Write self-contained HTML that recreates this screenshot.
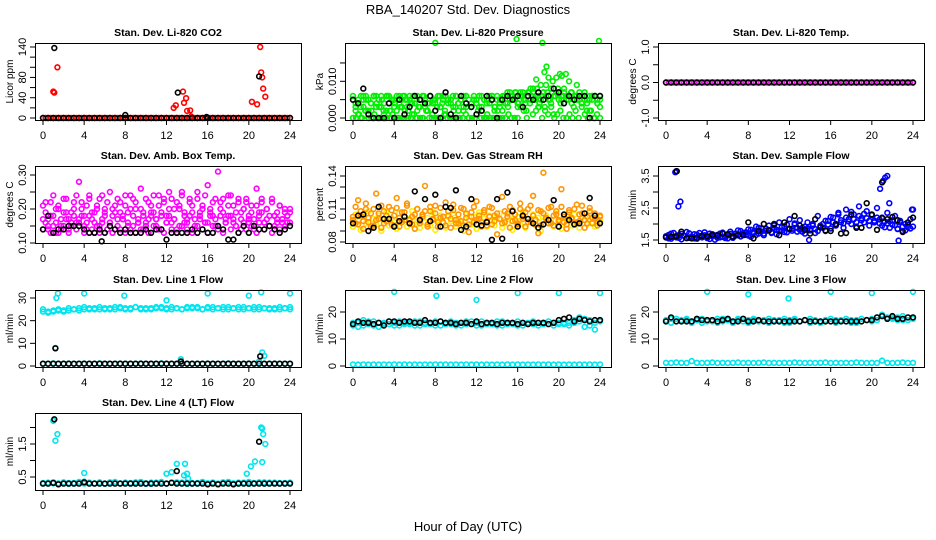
<!DOCTYPE html>
<html><head><meta charset="utf-8"><style>
body{margin:0;background:#fff}
svg{display:block}
text{font-family:"Liberation Sans",Arial,sans-serif;fill:#000}
.pt{font-weight:bold;font-size:10.5px}
.tk{font-size:11px}
</style></head><body>
<svg id="c" width="936" height="540" viewBox="0 0 936 540">
<text x="468" y="14" text-anchor="middle" font-size="13">RBA_140207  Std. Dev. Diagnostics</text>
<text x="468" y="531" text-anchor="middle" font-size="13">Hour of Day (UTC)</text>
</svg>
<script>
const xTicks=[0,4,8,12,16,20,24];
// P1 CO2
const co2Base=[0,0,0,0,0,0,0,0,0,0,0,0,0,0,0,0,0,0,0,0,0,0,0,0,0,0,0,0,0,0,0,0,0,0,0,0,0,0,0,0,0,0,0,0,0,0,0,0,0,0,0,0,0,0,0,0,0,0,0,0,0,0,0,0,0,0,0,0,0,0,0,0,0,0,0,0,0,0,0,0,0,0,0,0,0,0,0,0,0,0,0,0,0,0,0,0,0];
const co2OutX=[1.0,1.1,1.4,12.7,12.9,13.6,13.7,13.9,14.0,14.3,14.4,20.3,20.8,21.1,21.2,21.3,21.4,21.6];
const co2OutY=[52,50,100,20,25,52,30,39,14,15,3,32,27,140,90,80,58,42];
const co2BlkX=[1.1,13.1,21.0,8.0,15.9];
const co2BlkY=[138,50,82,6,2];
const co2Blk=[0,0,0,0,0,0,0,0,0,0,0,0,0,0,0,0,0,0,0,0,0,0,0,0,0,0,0,0,0,0,0,0,0,0,0,0,0,0,0,0,0,0,0,0,0,0,0,0,0];
// P2 pressure (x0.001 kPa)
const presA=[5,3,1,0,5,6,2,4,0,6,5,3,1,6,4,0,5,2,6,3,0,5,6,1,4,6,3,0,5,2,6,4,5,0,3,6,1,5,4,0,6,2,5,3,6,0,4,5,1,6,3,5,0,4,6,2,5,3,0,6,4,7,6,5,3,7,6,4,7,5,8,6,3,5,7,9,6,4,1,11,7,5,8,6,10,7,5,9,6,4,7,5,2,6,0,4,6];
const presB=[0,2,4,6,3,5,0,2,6,4,3,5,0,6,2,5,4,0,3,6,5,2,4,6,0,3,5,6,2,4,0,5,3,6,4,2,5,0,6,3,4,5,2,6,0,3,5,4,6,2,0,5,4,6,3,2,5,6,4,3,6,5,7,4,6,5,2,7,6,5,8,4,6,3,7,5,10,6,8,4,6,12,5,7,3,6,5,4,6,2,5,6,0,5,3];
const presC=[0,0,1,0,2,0,0,1,0,0,2,0,0,1,0,0,0,2,0,0,1,0,0,0,2,0,1,0,0,0,1,0,0,2,0,0,0,1,0,0,0,2,0,0,1,0,0,0,0,2,0,1,0,0,0,3,2,0,4,1,2,3,0,2,1,3,0,1,2,0,0,1,0,2,0,3,1,0,2,0,1,0];
const presD=[6,4,5,3,6,2,5,4,6,3,5,6,4,2,6,5,3,6,4,5,6,3,5,4,6,2,5,6,3,4,6,5,4,6,3,5,6,4,5,3,6,4,5,6,3,5,4,6,5,3,6,5,4,6,5,3,6,4,5,6,7,5,6,7,4,6,7,5,6,8,7,5,6,9,7,6,5,8,6,7,5,6,7,5,6,4,6,5,7,6,5,4,6,5,6,4,5];
const presOutX=[8.0,15.9,18.4,23.9,18.8,18.6,20.1,19.0,17.8,20.3];
const presOutY=[20.5,21.5,20.5,21,14,12.5,12,11,10.5,11.5];
const presBlk=[5,4,8,1,0,0,0,4,0,5,1,3,6,5,4,6,2,0,7,1,0,6,4,3,1,2,6,5,0,5,6,5,6,3,6,5,7,5,6,8,7,4,6,5,6,6,0,6,6];
// P3 temp
const tempMag=co2Base;
const tempBlk=co2Blk;
// P4 amb box temp
const ambA=[.21,.16,.14,.22,.18,.13,.20,.15,.23,.17,.14,.19,.22,.16,.28,.18,.15,.21,.24,.17,.13,.20,.23,.16,.19,.14,.25,.18,.21,.15,.22,.17,.24,.19,.14,.23,.20,.16,.26,.18,.15,.22,.19,.24,.17,.21,.14,.23,.18,.25,.16,.20,.22,.15,.24,.19,.17,.23,.21,.14,.25,.18,.20,.16,.27,.19,.22,.15,.31,.18,.23,.17,.21,.24,.16,.19,.22,.14,.20,.23,.17,.21,.15,.26,.19,.22,.16,.20,.18,.23,.15,.19,.21,.17,.20,.16,.19];
const ambB=[.14,.19,.17,.13,.15,.20,.13,.17,.15,.19,.13,.16,.18,.14,.17,.20,.13,.16,.18,.14,.19,.15,.13,.17,.20,.14,.16,.13,.19,.17,.14,.18,.13,.16,.20,.15,.13,.17,.14,.19,.16,.13,.18,.15,.17,.14,.19,.13,.16,.18,.14,.17,.13,.20,.15,.16,.14,.18,.13,.17,.15,.19,.14,.16,.13,.18,.15,.17,.14,.20,.13,.16,.18,.14,.17,.15,.13,.19,.16,.14,.18,.15,.17,.13,.16,.19,.14,.17,.15,.13,.18,.16,.14,.17,.15,.18,.16];
const ambC=[.17,.22,.15,.18,.24,.16,.21,.14,.19,.23,.17,.15,.20,.24,.16,.22,.18,.14,.23,.19,.16,.21,.15,.24,.18,.22,.16,.20,.14,.23,.19,.17,.21,.15,.24,.18,.22,.16,.20,.14,.23,.17,.21,.19,.15,.24,.18,.22,.16,.20,.23,.17,.14,.21,.25,.18,.16,.22,.19,.15,.23,.17,.21,.24,.16,.20,.18,.23,.15,.22,.19,.16,.24,.18,.21,.15,.23,.17,.20,.22,.16,.19,.14,.21,.18,.23,.16,.20,.15,.22,.18,.17,.21,.16,.19,.18,.20];
const ambBlk=[.14,.18,.13,.14,.14,.15,.15,.15,.14,.13,.13,.14,.13,.15,.14,.13,.14,.13,.13,.13,.14,.13,.14,.14,.11,.13,.13,.13,.13,.14,.13,.14,.13,.13,.15,.14,.11,.11,.13,.15,.13,.15,.14,.14,.15,.14,.13,.14,.15];
// P5 RH
const rhA=[.100,.097,.118,.104,.092,.110,.098,.106,.095,.124,.101,.093,.108,.099,.112,.096,.104,.120,.094,.107,.100,.115,.097,.103,.092,.110,.099,.105,.131,.096,.108,.101,.113,.094,.102,.098,.116,.104,.093,.109,.100,.097,.111,.095,.106,.089,.103,.098,.117,.101,.094,.107,.099,.112,.096,.104,.087,.101,.121,.098,.106,.093,.109,.100,.097,.115,.103,.094,.110,.099,.122,.096,.088,.108,.143,.101,.097,.112,.095,.105,.100,.128,.098,.092,.109,.102,.096,.114,.099,.106,.093,.103,.111,.097,.101,.095,.104];
const rhB=[.094,.105,.099,.091,.103,.097,.108,.093,.101,.096,.104,.090,.100,.107,.095,.102,.098,.092,.106,.099,.103,.094,.101,.108,.096,.100,.093,.105,.098,.102,.095,.107,.091,.100,.104,.097,.093,.103,.099,.106,.094,.101,.097,.090,.105,.100,.096,.103,.092,.107,.098,.101,.094,.104,.099,.095,.102,.106,.093,.100,.097,.104,.091,.099,.103,.096,.108,.093,.101,.098,.105,.095,.102,.090,.099,.104,.097,.100,.094,.106,.098,.092,.103,.099,.101,.095,.105,.097,.093,.102,.100,.096,.104,.098,.094,.101,.099];
const rhC=[.103,.112,.096,.108,.099,.115,.102,.094,.110,.100,.106,.113,.097,.104,.101,.109,.095,.111,.102,.098,.107,.113,.100,.096,.105,.110,.097,.103,.108,.094,.112,.100,.106,.098,.111,.103,.095,.108,.101,.114,.097,.105,.099,.110,.102,.096,.107,.112,.100,.104,.098,.109,.095,.103,.111,.099,.106,.101,.097,.108,.103,.112,.099,.105,.096,.110,.101,.107,.098,.113,.104,.100,.109,.095,.106,.102,.111,.097,.104,.108,.099,.112,.103,.096,.107,.101,.110,.098,.105,.113,.100,.097,.108,.102,.106,.099,.103];
const rhBlk=[.097,.104,.105,.090,.093,.112,.101,.101,.094,.099,.103,.097,.126,.100,.119,.099,.123,.094,.112,.111,.127,.091,.094,.119,.096,.095,.098,.082,.119,.083,.125,.108,.094,.104,.101,.097,.093,.096,.100,.118,.094,.105,.100,.096,.097,.106,.120,.104,.097];
// P6 sample flow
const sfA=[1.62,1.55,1.70,1.60,1.58,1.66,1.52,1.63,1.75,1.57,1.61,1.68,1.54,1.72,1.59,1.65,1.56,1.70,1.62,1.51,1.66,1.58,1.73,1.60,1.55,1.69,1.57,1.64,1.80,1.61,1.72,1.66,1.83,1.60,1.75,1.92,1.70,1.86,1.65,1.78,1.95,1.72,1.88,1.68,2.05,1.80,1.93,1.74,2.15,1.85,1.98,1.76,2.12,1.88,1.70,2.05,1.82,1.95,1.72,2.25,1.90,2.00,1.78,2.10,1.86,2.20,1.95,2.35,2.05,1.88,2.45,2.15,2.00,2.30,1.92,2.55,2.18,2.05,2.40,1.95,2.28,2.10,2.50,2.02,2.20,1.90,2.35,2.08,1.98,2.25,1.85,2.10,1.78,2.00,1.90,2.15,2.45];
const sfB=[1.58,1.66,1.54,1.72,1.61,1.57,1.69,1.63,1.56,1.71,1.60,1.55,1.67,1.62,1.58,1.74,1.61,1.53,1.68,1.64,1.57,1.70,1.60,1.56,1.65,1.76,1.62,1.70,1.65,1.78,1.68,1.74,1.64,1.82,1.71,1.66,1.88,1.76,1.70,1.85,1.80,1.74,1.96,1.82,1.78,1.90,1.75,1.98,1.84,1.79,2.02,1.88,1.82,1.76,1.92,1.86,1.80,2.00,1.84,1.78,1.95,1.88,2.10,1.98,2.22,2.05,1.96,2.30,2.12,2.02,2.20,2.08,2.38,2.15,2.06,2.25,2.12,2.32,2.18,2.10,2.28,2.05,2.20,2.14,1.95,2.08,2.02,1.88,2.12,1.96,1.84,2.05,1.92,1.80,1.98,1.86,1.92];
const sfOutX=[0.9,1.0,1.2,1.4,20.8,21.1,21.3,21.5,21.7,23.9,22.6,13.9];
const sfOutY=[3.62,3.65,2.55,2.7,3.1,3.35,3.45,3.5,2.65,2.45,1.48,1.5];
const sfBlk=[1.58,1.60,1.62,1.76,1.56,1.55,1.57,1.63,1.62,1.66,1.64,1.70,1.68,1.60,1.65,1.65,2.05,1.55,1.78,2.00,1.80,2.00,1.65,2.05,1.85,2.25,1.95,1.82,1.70,2.15,1.90,1.80,1.78,2.00,1.70,1.72,2.30,1.88,1.88,2.65,2.30,1.82,2.18,2.15,2.22,2.12,1.75,2.05,2.20];
const sfBlkOutX=[1.05,21.0];
const sfBlkOutY=[3.65,3.3];
// P7 Line 1
const l1A=[24,23.5,24,24.5,24,24.5,25,24.5,25,25.5,25,25,25.5,25,26,25.5,25,25.5,26,25.5,25,25.5,26,25.5,25,26,25.5,25,26,25.5,26,25,25.5,26,25.5,25,26,25.5,25,26,25.5,25,26,25.5,25.5,25,26,25.5,25];
const l1B=[25,24,24.5,25,24.5,25.5,25,25.5,26,25,25.5,26,25,25.5,25,26,25.5,25,26,25,25.5,25,25.5,26,25.5,25,25.5,25,25.5,26,25.5,25,26,25,25.5,26,25,25.5,26,25,25.5,26,25,25.5,25,25.5,25,25.5,26];
const l1Low=[1,1,1.2,1,1,1.1,1,1,1.1,1,1,1.2,1,1,1,1.1,1,1,1,1.1,1,1,1,1.2,1,1,1,1.1,1,1,1,1,1.1,1,1,1,1.2,1,1,1,1.1,1,1,1,1,1.1,1,1,1];
const l1OutX=[1.3,1.45,4.0,7.9,12.0,16.0,20.0,21.2,24.0,1.2,21.3,21.5,21.0,13.4];
const l1OutY=[30,32,32,31,29,32,31,32.5,32,8,6,4.5,2,3];
const l1Blk=[1,1,1,1,1,1,1,1,1,1,1,1,1,1,1,1,1,1,1,1,1,1,1,1,1,1,1,1,1,1,1,1,1,1,1,1,1,1,1,1,1,1,1,1,1,1,1,1,1];
const l1BlkOutX=[1.2,21.1,13.4];
const l1BlkOutY=[7.8,4.3,2];
// P8 Line 2
const l2A=[16,14.5,15,16.5,15,14.5,16,15.5,15,16.5,15.5,16,15,16.5,15.5,16,15,16.5,16,15.5,16,15,16.5,15.5,16,15,16,15.5,16.5,15,16,15.5,15,16,15.5,16.5,15,16,15.5,15,16,15.5,16,17,16.5,17.5,15,16,17];
const l2B=[15,16,17,15.5,16.5,16,15.5,16.5,16,15,16,15.5,16.5,15,16,15.5,16.5,15,15.5,16.5,15,16,15.5,16.5,15,16.5,15.5,16,15,16.5,15.5,16,16.5,15,16,15.5,16,15.5,16.5,16,15.5,16,15,16,18,14.5,17,13.5,16.5];
const l2Low=[0.6,0.5,0.6,0.5,0.6,0.5,0.6,0.5,0.6,0.5,0.6,0.5,0.6,0.5,0.6,0.5,0.6,0.5,0.6,0.5,0.6,0.5,0.6,0.5,0.6,0.5,0.6,0.5,0.6,0.5,0.6,0.5,0.6,0.5,0.6,0.5,0.6,0.5,0.6,0.5,0.6,0.5,0.6,0.5,0.6,0.5,0.6,0.5,0.6];
const l2OutX=[4,8.1,12,16,20,24];
const l2OutY=[27.5,26,24.5,27,27,27];
const l2Blk=[15.5,16.5,16,16,15.5,16,15,16.5,16.5,16,16.5,16.5,16,16,17,16,16,16.5,16,16,15.5,16,16,15.5,16.5,15.5,16,16,15.5,16,16,16,15.5,16,15.5,16,16,16,15.5,16,17,17.5,18,16.5,17.5,17,16.5,17,17];
// P9 Line 3
const l3A=[17,16,17.5,16.5,17,16,17,17.5,16.5,17,16,17.5,17,16.5,17,17.5,16,17,16.5,17,17.5,16.5,17,16,17,17.5,16.5,17,16,17,16.5,17,17.5,16,17,16.5,17,16,17.5,17,16.5,18,19,18,17.5,18,17,18,17.5];
const l3B=[16.5,17.5,16.5,17,17.5,16.5,17,16,17,16.5,17.5,16.5,17,16,17.5,16.5,17,17.5,16.5,17,16,17,16.5,17.5,16,17,16.5,17,17.5,16.5,16,17,16.5,17,16.5,17.5,16,17,16.5,17,17.5,17,18.5,17.5,18,17,18.5,17,18];
const l3Low=[1.2,1.1,1.3,1.2,1.1,1.8,1.2,1.1,1.2,1.3,1.1,1.2,1.1,1.2,1.3,1.1,1.2,1.1,1.2,1.3,1.1,1.2,1.1,1.2,1.1,1.3,1.2,1.1,1.2,1.1,1.2,1.3,1.1,1.2,1.1,1.2,1.1,1.3,1.2,1.1,1.2,1.1,2.0,1.2,1.1,1.2,1.3,1.1,1.2];
const l3OutX=[4,8,11.9,16,20,24];
const l3OutY=[27.5,26.5,25,27.5,27,27.5];
const l3Blk=[16.5,18,16.5,16.5,16.5,16.5,17.5,17,17,17,16.5,17,17.5,16.5,16.5,17.5,16.5,16.5,17,16.5,16.5,16.5,16.5,16.5,16.5,16.5,16.5,17,16.5,16.5,16.5,16.5,16.5,16.5,16.5,16.5,16.5,16.5,16.5,17,17,18,18.5,17.5,18.5,17.5,17.5,18,18];
// P10 Line 4
const l4A=[0.32,0.30,0.34,0.31,0.33,0.29,0.32,0.35,0.30,0.33,0.31,0.34,0.30,0.32,0.35,0.31,0.33,0.30,0.34,0.32,0.29,0.33,0.31,0.35,0.30,0.32,0.34,0.31,0.33,0.30,0.32,0.35,0.31,0.33,0.30,0.34,0.32,0.29,0.33,0.31,0.35,0.30,0.32,0.34,0.31,0.33,0.30,0.32,0.31];
const l4B=[0.30,0.33,0.31,0.29,0.34,0.32,0.30,0.31,0.36,0.32,0.30,0.33,0.29,0.34,0.31,0.30,0.33,0.32,0.30,0.35,0.31,0.29,0.33,0.32,0.30,0.34,0.31,0.33,0.29,0.32,0.30,0.34,0.31,0.33,0.30,0.32,0.35,0.31,0.30,0.33,0.29,0.32,0.34,0.30,0.33,0.31,0.32,0.30,0.33];
const l4OutX=[1.0,1.2,1.4,4.0,12.0,12.5,13.0,13.8,13.7,14.0,14.1,19.8,20.2,20.6,21.2,21.3,21.4,21.3,21.6];
const l4OutY=[2.2,1.6,1.8,0.62,0.6,0.65,0.9,0.9,0.55,0.6,0.45,0.6,0.82,0.97,2.0,1.97,1.8,0.95,1.5];
const l4Blk=[0.3,0.3,0.32,0.28,0.3,0.3,0.3,0.3,0.34,0.3,0.3,0.3,0.3,0.3,0.3,0.3,0.3,0.3,0.3,0.3,0.3,0.3,0.3,0.3,0.3,0.32,0.3,0.3,0.3,0.3,0.3,0.3,0.28,0.3,0.28,0.3,0.3,0.28,0.3,0.3,0.3,0.3,0.3,0.3,0.3,0.3,0.3,0.3,0.3];
const l4BlkOutX=[1.1,21.0,13.0];
const l4BlkOutY=[2.25,1.57,0.68];

const svg=document.getElementById('c');
const NS='http://www.w3.org/2000/svg';
function el(t,a,p){const e=document.createElementNS(NS,t);for(const k in a)e.setAttribute(k,a[k]);(p||svg).appendChild(e);return e;}
function grid(arr){return arr.map((v,i)=>i*24/(arr.length-1));}
const colL=[35,345,658], rowT=[43,166,290,413], W=266, H=77;
const panels=[
 {n:'co2',t:'Stan. Dev. Li-820 CO2',yl:'Licor ppm',c:0,r:0,r1:[0,75],r2:[140,4],ticks:[0,20,40,60,80,100,120,140],labs:[[0,'0'],[40,'40'],[80,'80'],[140,'140']],
  col:[['#ff0000',[[grid(co2Base),co2Base],[co2OutX,co2OutY]]]],blk:[[grid(co2Blk),co2Blk],[co2BlkX,co2BlkY]]},
 {n:'pressure',t:'Stan. Dev. Li-820 Pressure',yl:'kPa',c:1,r:0,r1:[0,75],r2:[10,38.3],ticks:[0,5,10,15],labs:[[0,'0.000'],[10,'0.010']],
  col:[['#00ee00',[[grid(presA),presA],[grid(presB),presB],[grid(presC),presC],[grid(presD),presD],[presOutX,presOutY]]]],blk:[[grid(presBlk),presBlk]]},
 {n:'temp',t:'Stan. Dev. Li-820 Temp.',yl:'degrees C',c:2,r:0,r1:[-1,75],r2:[1,4],ticks:[-1,-0.5,0,0.5,1],labs:[[-1,'-1.0'],[0,'0.0'],[1,'1.0']],
  col:[['#ff00ff',[[grid(tempMag),tempMag]]]],blk:[[grid(tempBlk),tempBlk]]},
 {n:'amb-box-temp',t:'Stan. Dev. Amb. Box Temp.',yl:'degrees C',c:0,r:1,r1:[0.10,77],r2:[0.30,9],ticks:[0.10,0.15,0.20,0.25,0.30],labs:[[0.10,'0.10'],[0.20,'0.20'],[0.30,'0.30']],
  col:[['#ff00ff',[[grid(ambA),ambA],[grid(ambB),ambB],[grid(ambC),ambC]]]],blk:[[grid(ambBlk),ambBlk],[[5.7],[0.105]]]},
 {n:'gas-rh',t:'Stan. Dev. Gas Stream RH',yl:'percent',c:1,r:1,r1:[0.08,76],r2:[0.14,10],ticks:[0.08,0.09,0.10,0.11,0.12,0.13,0.14],labs:[[0.08,'0.08'],[0.11,'0.11'],[0.14,'0.14']],
  col:[['#ffee00',[[grid(rhB),rhB]]],['#ff9500',[[grid(rhA),rhA],[grid(rhC),rhC]]]],blk:[[grid(rhBlk),rhBlk]]},
 {n:'sample-flow',t:'Stan. Dev. Sample Flow',yl:'ml/min',c:2,r:1,r1:[1.5,74],r2:[3.5,10],ticks:[1.5,2,2.5,3,3.5],labs:[[1.5,'1.5'],[2.5,'2.5'],[3.5,'3.5']],
  col:[['#0000ff',[[grid(sfA),sfA],[grid(sfB),sfB],[sfOutX,sfOutY]]]],blk:[[grid(sfBlk),sfBlk],[sfBlkOutX,sfBlkOutY]]},
 {n:'line1-flow',t:'Stan. Dev. Line 1 Flow',yl:'ml/min',c:0,r:2,r1:[0,76],r2:[30,8],ticks:[0,10,20,30],labs:[[0,'0'],[10,'10'],[20,'20'],[30,'30']],
  col:[['#00e5ee',[[grid(l1A),l1A],[grid(l1B),l1B],[grid(l1Low),l1Low],[l1OutX,l1OutY]]]],blk:[[grid(l1Blk),l1Blk],[l1BlkOutX,l1BlkOutY]]},
 {n:'line2-flow',t:'Stan. Dev. Line 2 Flow',yl:'ml/min',c:1,r:2,r1:[0,76],r2:[20,22],ticks:[0,10,20],labs:[[0,'0'],[10,'10'],[20,'20']],
  col:[['#00e5ee',[[grid(l2A),l2A],[grid(l2B),l2B],[grid(l2Low),l2Low],[l2OutX,l2OutY]]]],blk:[[grid(l2Blk),l2Blk]]},
 {n:'line3-flow',t:'Stan. Dev. Line 3 Flow',yl:'ml/min',c:2,r:2,r1:[0,76],r2:[20,22],ticks:[0,10,20],labs:[[0,'0'],[10,'10'],[20,'20']],
  col:[['#00e5ee',[[grid(l3A),l3A],[grid(l3B),l3B],[grid(l3Low),l3Low],[l3OutX,l3OutY]]]],blk:[[grid(l3Blk),l3Blk]]},
 {n:'line4-flow',t:'Stan. Dev. Line 4 (LT) Flow',yl:'ml/min',c:0,r:3,r1:[0.5,64],r2:[1.5,31],ticks:[0.5,1,1.5,2],labs:[[0.5,'0.5'],[1.5,'1.5']],
  col:[['#00e5ee',[[grid(l4A),l4A],[grid(l4B),l4B],[l4OutX,l4OutY]]]],blk:[[grid(l4Blk),l4Blk],[l4BlkOutX,l4BlkOutY]]}
];
panels.forEach(p=>{
 const L=colL[p.c],T=rowT[p.r];
 const g=el('g',{});
 
 
 const X=h=>L+8+h*247/24;
 const Y=v=>T+p.r1[1]+(v-p.r1[0])*(p.r2[1]-p.r1[1])/(p.r2[0]-p.r1[0]);
 const ti=el('text',{x:L+W/2,y:T-7,'text-anchor':'middle','class':'pt'},g);ti.textContent=p.t;
 
 
 const yt=el('text',{transform:`translate(${L-22},${T+H/2}) rotate(-90)`,'text-anchor':'middle','font-size':'10'},g);yt.textContent=p.yl;
 
 
 const pts=el('g',{fill:'none','stroke-width':'1.6'},g);
 
 
 const draw=(color,sets)=>sets.forEach(([xs,ys])=>xs.forEach((h,i)=>{
   const c=el('circle',{cx:X(h).toFixed(1),cy:Y(ys[i]).toFixed(1),r:2.4,stroke:color},pts);
   
   
 }));
 p.col.forEach(([color,sets])=>draw(color,sets));
 draw('#000',p.blk);
 const bx=el('rect',{x:L+0.5,y:T+0.5,width:W,height:H,fill:'none',stroke:'#000','stroke-width':'1'},g);
 
 
 el('line',{x1:X(0),x2:X(24),y1:T+H+0.5,y2:T+H+0.5,stroke:'#000'},g);
 xTicks.forEach(h=>{
  el('line',{x1:X(h),x2:X(h),y1:T+H,y2:T+H+5,stroke:'#000'},g);
  const t=el('text',{x:X(h),y:T+H+19,'text-anchor':'middle','class':'tk'},g);t.textContent=h;
  
  
 });
 el('line',{x1:L+0.5,x2:L+0.5,y1:Y(p.ticks[0]),y2:Y(p.ticks[p.ticks.length-1]),stroke:'#000'},g);
 p.ticks.forEach(v=>el('line',{x1:L-5,x2:L,y1:Y(v),y2:Y(v),stroke:'#000'},g));
 p.labs.forEach(([v,s])=>{
  const t=el('text',{transform:`translate(${L-9},${Y(v)}) rotate(-90)`,'text-anchor':'middle','class':'tk'},g);t.textContent=s;
  
  
 });
});
</script>
</body></html>
